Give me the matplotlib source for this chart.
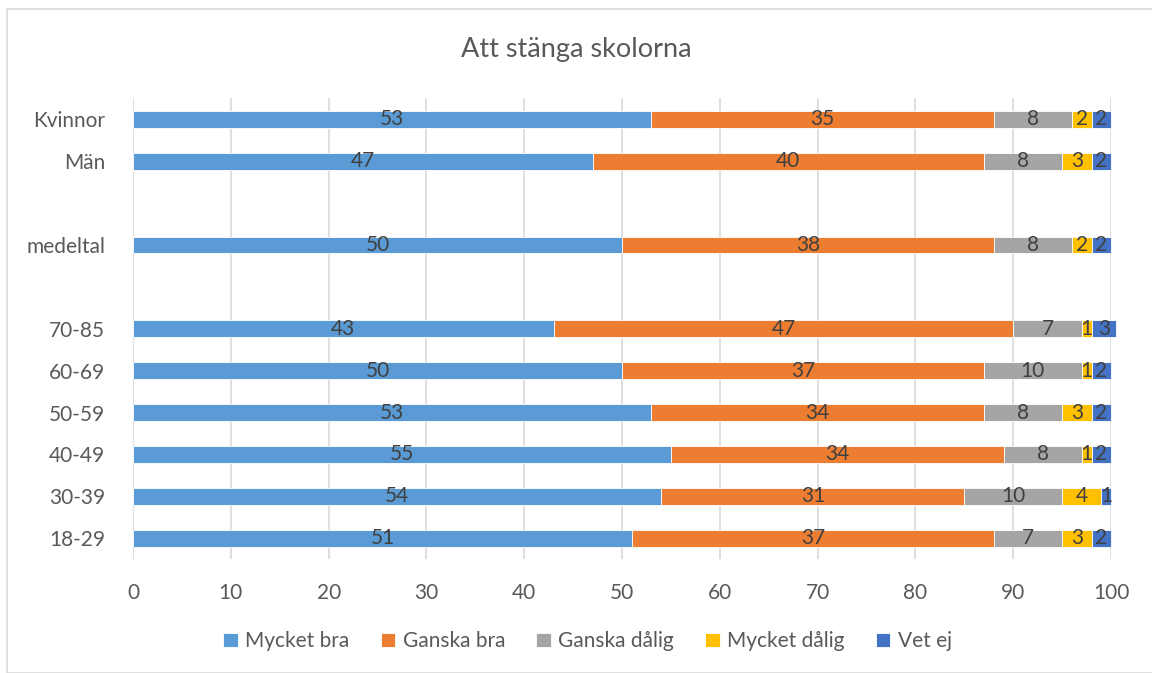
import numpy as np
import matplotlib.pyplot as plt
from matplotlib.patches import Rectangle

plt.rcParams['font.family'] = ['Lato', 'DejaVu Sans']

# categories from bottom to top ('' = empty slot)
groups = ['18-29', '30-39', '40-49', '50-59', '60-69', '70-85', '', 'medeltal', '', 'Män', 'Kvinnor']

series = ['Mycket bra', 'Ganska bra', 'Ganska dålig', 'Mycket dålig', 'Vet ej']
mycket_bra   = [51, 54, 55, 53, 50, 43, None, 50, None, 47, 53]
ganska_bra   = [37, 31, 34, 34, 37, 47, None, 38, None, 40, 35]
ganska_dalig = [7, 10, 8, 8, 10, 7, None, 8, None, 8, 8]
mycket_dalig = [3, 4, 1, 3, 1, 1, None, 2, None, 3, 2]
vet_ej       = [2, 1, 2, 2, 2, 2.5, None, 2, None, 2, 2]

colors = ['#5B9BD5', '#ED7D31', '#A5A5A5', '#FFC000', '#4472C4']

fig = plt.figure(figsize=(11.52, 6.73), dpi=100)
ax = fig.add_axes([0.1155, 0.169, 0.849, 0.685])

left = np.zeros(len(groups))
all_vals = [mycket_bra, ganska_bra, ganska_dalig, mycket_dalig, vet_ej]
for name, vals, c in zip(series, all_vals, colors):
    idx = [i for i, v in enumerate(vals) if v is not None]
    v = np.array([vals[i] for i in idx], dtype=float)
    ax.barh(idx, v, left=left[idx], height=0.4, color=c, label=name,
            edgecolor='white', linewidth=0.6, clip_on=False, zorder=3)
    for yi, val in zip(idx, v):
        ax.text(left[yi] + val / 2, yi, f'{int(val + 0.5)}', ha='center', va='center',
                fontsize=15, color='#404040', zorder=4)
    left[idx] += v

ax.set_xlim(0, 100)
ax.set_ylim(-0.5, len(groups) - 0.5)
ax.set_xticks(np.arange(0, 101, 10))
ax.set_yticks(np.arange(len(groups)))
ax.set_yticklabels(groups)
ax.tick_params(axis='both', length=0, labelsize=15, labelcolor='#595959')
ax.tick_params(axis='y', pad=20)
ax.tick_params(axis='x', pad=17)
ax.grid(axis='x', color='#D9D9D9', linewidth=1.2, zorder=0)
ax.set_axisbelow(True)
for s in ax.spines.values():
    s.set_visible(False)

fig.suptitle('Att stänga skolorna', y=0.945, fontsize=19.5, color='#595959')

fig.legend(loc='upper center', bbox_to_anchor=(0.51, 0.09), ncol=5, frameon=False,
           fontsize=15, labelcolor='#595959', handlelength=0.7, handleheight=0.7,
           handletextpad=0.35, columnspacing=1.5)

# outer chart border
fig.patches.append(Rectangle((0.006, 0.0), 0.995, 0.987, transform=fig.transFigure,
                             fill=False, edgecolor='#D9D9D9', linewidth=1.2))

plt.savefig('out.png', dpi=100)
